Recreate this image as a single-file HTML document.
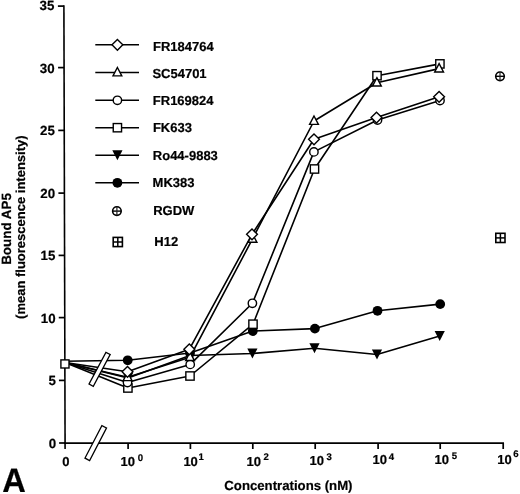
<!DOCTYPE html>
<html><head><meta charset="utf-8"><style>
html,body{margin:0;padding:0;background:#fff;}
svg{display:block;will-change:transform;} text{text-rendering:geometricPrecision;}
</style></head><body>
<svg width="520" height="494" viewBox="0 0 520 494">
<rect width="520" height="494" fill="#fff"/>
<line x1="63.90" y1="5.3" x2="65.1" y2="449" stroke="#000" stroke-width="1.6"/>
<line x1="57.90" y1="6.1" x2="63.90" y2="6.1" stroke="#000" stroke-width="1.7"/>
<line x1="58.07" y1="67.6" x2="64.07" y2="67.6" stroke="#000" stroke-width="1.7"/>
<line x1="58.24" y1="130.4" x2="64.24" y2="130.4" stroke="#000" stroke-width="1.7"/>
<line x1="58.41" y1="193.1" x2="64.41" y2="193.1" stroke="#000" stroke-width="1.7"/>
<line x1="58.59" y1="255.4" x2="64.59" y2="255.4" stroke="#000" stroke-width="1.7"/>
<line x1="58.76" y1="317.6" x2="64.76" y2="317.6" stroke="#000" stroke-width="1.7"/>
<line x1="58.93" y1="380.4" x2="64.93" y2="380.4" stroke="#000" stroke-width="1.7"/>
<line x1="59.10" y1="443.0" x2="65.10" y2="443.0" stroke="#000" stroke-width="1.7"/>
<line x1="64" y1="443.1" x2="504.0" y2="443.1" stroke="#000" stroke-width="1.75"/>
<line x1="128.1" y1="443" x2="128.1" y2="449" stroke="#000" stroke-width="1.7"/>
<line x1="190.4" y1="443" x2="190.4" y2="449" stroke="#000" stroke-width="1.7"/>
<line x1="252.8" y1="443" x2="252.8" y2="449" stroke="#000" stroke-width="1.7"/>
<line x1="315.2" y1="443" x2="315.2" y2="449" stroke="#000" stroke-width="1.7"/>
<line x1="378.1" y1="443" x2="378.1" y2="449" stroke="#000" stroke-width="1.7"/>
<line x1="440.2" y1="443" x2="440.2" y2="449" stroke="#000" stroke-width="1.7"/>
<line x1="503.2" y1="443" x2="503.2" y2="449" stroke="#000" stroke-width="1.7"/>
<polyline points="65,362.5 127.5,371.8 189.3,349.3 252.0,234.3 314.0,139.3 376.5,117.6 439.1,96.8" fill="none" stroke="#000" stroke-width="1.6" stroke-linejoin="round"/>
<polyline points="65,362.5 127.6,377.3 190.0,357.2 252.5,238.9 314.0,121.0 376.9,82.7 439.1,68.6" fill="none" stroke="#000" stroke-width="1.6" stroke-linejoin="round"/>
<polyline points="65,362.5 127.5,382.5 190.2,364.4 252.4,303.3 313.9,151.9 377.5,120.0 440.0,100.5" fill="none" stroke="#000" stroke-width="1.6" stroke-linejoin="round"/>
<polyline points="65,362.5 127.9,388.0 190.0,376.0 253.0,324.2 314.5,169.0 377.0,75.7 439.9,63.9" fill="none" stroke="#000" stroke-width="1.6" stroke-linejoin="round"/>
<polyline points="65,362.5 128.0,378.0 190.0,355.5 252.4,353.5 314.5,348.2 377.0,354.5 439.7,335.9" fill="none" stroke="#000" stroke-width="1.6" stroke-linejoin="round"/>
<polyline points="65,361.2 127.7,360.3 190.0,353.0 252.8,331.0 314.9,328.6 377.5,310.8 440.2,304.1" fill="none" stroke="#000" stroke-width="1.6" stroke-linejoin="round"/>
<path d="M122.9,373.0 L133.1,373.0 L128.0,383.0 Z" fill="#000"/>
<path d="M184.9,350.5 L195.1,350.5 L190.0,360.5 Z" fill="#000"/>
<path d="M247.3,348.5 L257.5,348.5 L252.4,358.5 Z" fill="#000"/>
<path d="M309.4,343.2 L319.6,343.2 L314.5,353.2 Z" fill="#000"/>
<path d="M371.9,349.5 L382.1,349.5 L377.0,359.5 Z" fill="#000"/>
<path d="M434.59999999999997,330.9 L444.8,330.9 L439.7,340.9 Z" fill="#000"/>
<circle cx="127.7" cy="360.3" r="4.9" fill="#000"/>
<circle cx="190.0" cy="353.0" r="4.9" fill="#000"/>
<circle cx="252.8" cy="331.0" r="4.9" fill="#000"/>
<circle cx="314.9" cy="328.6" r="4.9" fill="#000"/>
<circle cx="377.5" cy="310.8" r="4.9" fill="#000"/>
<circle cx="440.2" cy="304.1" r="4.9" fill="#000"/>
<rect x="123.75" y="383.85" width="8.3" height="8.3" fill="#fff" stroke="#000" stroke-width="1.4"/>
<rect x="185.85" y="371.85" width="8.3" height="8.3" fill="#fff" stroke="#000" stroke-width="1.4"/>
<rect x="248.85" y="320.05" width="8.3" height="8.3" fill="#fff" stroke="#000" stroke-width="1.4"/>
<rect x="310.35" y="164.85" width="8.3" height="8.3" fill="#fff" stroke="#000" stroke-width="1.4"/>
<rect x="372.85" y="71.55" width="8.3" height="8.3" fill="#fff" stroke="#000" stroke-width="1.4"/>
<rect x="435.75" y="59.75" width="8.3" height="8.3" fill="#fff" stroke="#000" stroke-width="1.4"/>
<circle cx="127.5" cy="382.5" r="4.2" fill="#fff" stroke="#000" stroke-width="1.4"/>
<circle cx="190.2" cy="364.4" r="4.2" fill="#fff" stroke="#000" stroke-width="1.4"/>
<circle cx="252.4" cy="303.3" r="4.2" fill="#fff" stroke="#000" stroke-width="1.4"/>
<circle cx="313.9" cy="151.9" r="4.2" fill="#fff" stroke="#000" stroke-width="1.4"/>
<circle cx="377.5" cy="120.0" r="4.2" fill="#fff" stroke="#000" stroke-width="1.4"/>
<circle cx="440.0" cy="100.5" r="4.2" fill="#fff" stroke="#000" stroke-width="1.4"/>
<path d="M127.6,372.26 L132.0,380.66 L123.19999999999999,380.66 Z" fill="#fff" stroke="#000" stroke-width="1.4" stroke-linejoin="miter"/>
<path d="M190.0,352.15999999999997 L194.4,360.56 L185.6,360.56 Z" fill="#fff" stroke="#000" stroke-width="1.4" stroke-linejoin="miter"/>
<path d="M252.5,233.86 L256.9,242.26000000000002 L248.1,242.26000000000002 Z" fill="#fff" stroke="#000" stroke-width="1.4" stroke-linejoin="miter"/>
<path d="M314.0,115.96 L318.4,124.36 L309.6,124.36 Z" fill="#fff" stroke="#000" stroke-width="1.4" stroke-linejoin="miter"/>
<path d="M376.9,77.66 L381.29999999999995,86.06 L372.5,86.06 Z" fill="#fff" stroke="#000" stroke-width="1.4" stroke-linejoin="miter"/>
<path d="M439.1,63.559999999999995 L443.5,71.96 L434.70000000000005,71.96 Z" fill="#fff" stroke="#000" stroke-width="1.4" stroke-linejoin="miter"/>
<path d="M127.5,366.40000000000003 L132.9,371.8 L127.5,377.2 L122.1,371.8 Z" fill="#fff" stroke="#000" stroke-width="1.4"/>
<path d="M189.3,343.90000000000003 L194.70000000000002,349.3 L189.3,354.7 L183.9,349.3 Z" fill="#fff" stroke="#000" stroke-width="1.4"/>
<path d="M252.0,228.9 L257.4,234.3 L252.0,239.70000000000002 L246.6,234.3 Z" fill="#fff" stroke="#000" stroke-width="1.4"/>
<path d="M314.0,133.9 L319.4,139.3 L314.0,144.70000000000002 L308.6,139.3 Z" fill="#fff" stroke="#000" stroke-width="1.4"/>
<path d="M376.5,112.19999999999999 L381.9,117.6 L376.5,123.0 L371.1,117.6 Z" fill="#fff" stroke="#000" stroke-width="1.4"/>
<path d="M439.1,91.39999999999999 L444.5,96.8 L439.1,102.2 L433.70000000000005,96.8 Z" fill="#fff" stroke="#000" stroke-width="1.4"/>
<rect x="60.900000000000006" y="359.9" width="8.1" height="8.1" fill="#fff" stroke="#000" stroke-width="1.4"/>
<circle cx="500.0" cy="76.3" r="4.3" fill="#fff" stroke="#000" stroke-width="1.6"/><line x1="495.7" y1="76.3" x2="504.3" y2="76.3" stroke="#000" stroke-width="1.4"/><line x1="500.0" y1="72.0" x2="500.0" y2="80.6" stroke="#222" stroke-width="1.2"/>
<rect x="495.79999999999995" y="233.3" width="9.2" height="9.2" fill="#fff" stroke="#000" stroke-width="1.6"/><line x1="495.79999999999995" y1="237.9" x2="505.0" y2="237.9" stroke="#000" stroke-width="1.5"/><line x1="500.4" y1="233.3" x2="500.4" y2="242.5" stroke="#000" stroke-width="1.5"/>
<rect x="-2.6" y="-18.3" width="5.2" height="36.6" fill="#fff" stroke="#000" stroke-width="1.3" transform="translate(95.75,443.1) rotate(27.5)"/>
<rect x="-2.4" y="-18.0" width="4.8" height="36.0" fill="#fff" stroke="#000" stroke-width="1.3" transform="translate(99.6,369.3) rotate(28.0)"/>
<line x1="95.3" y1="44.8" x2="139" y2="44.8" stroke="#000" stroke-width="1.4"/>
<path d="M117.4,39.4 L122.80000000000001,44.8 L117.4,50.199999999999996 L112.0,44.8 Z" fill="#fff" stroke="#000" stroke-width="1.4"/>
<line x1="95.3" y1="72.5" x2="139" y2="72.5" stroke="#000" stroke-width="1.4"/>
<path d="M117.4,67.46 L121.80000000000001,75.86 L113.0,75.86 Z" fill="#fff" stroke="#000" stroke-width="1.4" stroke-linejoin="miter"/>
<line x1="95.3" y1="100.3" x2="139" y2="100.3" stroke="#000" stroke-width="1.4"/>
<circle cx="117.4" cy="100.3" r="4.2" fill="#fff" stroke="#000" stroke-width="1.4"/>
<line x1="95.3" y1="127.7" x2="139" y2="127.7" stroke="#000" stroke-width="1.4"/>
<rect x="113.25" y="123.55" width="8.3" height="8.3" fill="#fff" stroke="#000" stroke-width="1.4"/>
<line x1="95.3" y1="155.3" x2="139" y2="155.3" stroke="#000" stroke-width="1.4"/>
<path d="M112.30000000000001,150.3 L122.5,150.3 L117.4,160.3 Z" fill="#000"/>
<line x1="95.3" y1="182.8" x2="139" y2="182.8" stroke="#000" stroke-width="1.4"/>
<circle cx="117.4" cy="182.8" r="4.9" fill="#000"/>
<circle cx="116.9" cy="211.1" r="4.3" fill="#fff" stroke="#000" stroke-width="1.6"/><line x1="112.60000000000001" y1="211.1" x2="121.2" y2="211.1" stroke="#000" stroke-width="1.4"/><line x1="116.9" y1="206.79999999999998" x2="116.9" y2="215.4" stroke="#222" stroke-width="1.2"/>
<rect x="113.2" y="237.4" width="9.2" height="9.2" fill="#fff" stroke="#000" stroke-width="1.6"/><line x1="113.2" y1="242.0" x2="122.39999999999999" y2="242.0" stroke="#000" stroke-width="1.5"/><line x1="117.8" y1="237.4" x2="117.8" y2="246.6" stroke="#000" stroke-width="1.5"/>
<text x="153.0" y="50.6" style="font-family:'Liberation Sans', sans-serif;font-weight:bold;stroke:#000;stroke-width:0.2px;font-size:13px">FR184764</text>
<text x="152.4" y="78.1" style="font-family:'Liberation Sans', sans-serif;font-weight:bold;stroke:#000;stroke-width:0.2px;font-size:13px">SC54701</text>
<text x="152.8" y="105.3" style="font-family:'Liberation Sans', sans-serif;font-weight:bold;stroke:#000;stroke-width:0.2px;font-size:13px">FR169824</text>
<text x="152.9" y="132.3" style="font-family:'Liberation Sans', sans-serif;font-weight:bold;stroke:#000;stroke-width:0.2px;font-size:13px">FK633</text>
<text x="152.8" y="160.2" style="font-family:'Liberation Sans', sans-serif;font-weight:bold;stroke:#000;stroke-width:0.2px;font-size:13px">Ro44-9883</text>
<text x="152.6" y="187.3" style="font-family:'Liberation Sans', sans-serif;font-weight:bold;stroke:#000;stroke-width:0.2px;font-size:13px">MK383</text>
<text x="153.2" y="215.2" style="font-family:'Liberation Sans', sans-serif;font-weight:bold;stroke:#000;stroke-width:0.2px;font-size:13px">RGDW</text>
<text x="154.3" y="246.4" style="font-family:'Liberation Sans', sans-serif;font-weight:bold;stroke:#000;stroke-width:0.2px;font-size:13px">H12</text>
<text x="54.34" y="10.4" text-anchor="end" style="font-family:'Liberation Sans', sans-serif;font-weight:bold;stroke:#000;stroke-width:0.2px;font-size:13.3px">35</text>
<text x="54.59" y="73.0" text-anchor="end" style="font-family:'Liberation Sans', sans-serif;font-weight:bold;stroke:#000;stroke-width:0.2px;font-size:13.3px">30</text>
<text x="54.84" y="134.60000000000002" text-anchor="end" style="font-family:'Liberation Sans', sans-serif;font-weight:bold;stroke:#000;stroke-width:0.2px;font-size:13.3px">25</text>
<text x="55.09" y="197.60000000000002" text-anchor="end" style="font-family:'Liberation Sans', sans-serif;font-weight:bold;stroke:#000;stroke-width:0.2px;font-size:13.3px">20</text>
<text x="55.35" y="260.0" text-anchor="end" style="font-family:'Liberation Sans', sans-serif;font-weight:bold;stroke:#000;stroke-width:0.2px;font-size:13.3px">15</text>
<text x="55.60" y="322.8" text-anchor="end" style="font-family:'Liberation Sans', sans-serif;font-weight:bold;stroke:#000;stroke-width:0.2px;font-size:13.3px">10</text>
<text x="55.85" y="384.5" text-anchor="end" style="font-family:'Liberation Sans', sans-serif;font-weight:bold;stroke:#000;stroke-width:0.2px;font-size:13.3px">5</text>
<text x="56.10" y="447.7" text-anchor="end" style="font-family:'Liberation Sans', sans-serif;font-weight:bold;stroke:#000;stroke-width:0.2px;font-size:13.3px">0</text>
<text x="65.8" y="465.5" text-anchor="middle" style="font-family:'Liberation Sans', sans-serif;font-weight:bold;stroke:#000;stroke-width:0.2px;font-size:13px">0</text>
<text x="120.5" y="465.8" style="font-family:'Liberation Sans', sans-serif;font-weight:bold;stroke:#000;stroke-width:0.2px;font-size:13px">10</text>
<text x="137.7" y="460.9" style="font-family:'Liberation Sans', sans-serif;font-weight:bold;stroke:#000;stroke-width:0.2px;font-size:9.6px">0</text>
<text x="183.4" y="465.7" style="font-family:'Liberation Sans', sans-serif;font-weight:bold;stroke:#000;stroke-width:0.2px;font-size:13px">10</text>
<text x="198.4" y="460.0" style="font-family:'Liberation Sans', sans-serif;font-weight:bold;stroke:#000;stroke-width:0.2px;font-size:9.6px">1</text>
<text x="246.5" y="465.7" style="font-family:'Liberation Sans', sans-serif;font-weight:bold;stroke:#000;stroke-width:0.2px;font-size:13px">10</text>
<text x="263.40000000000003" y="460.4" style="font-family:'Liberation Sans', sans-serif;font-weight:bold;stroke:#000;stroke-width:0.2px;font-size:9.6px">2</text>
<text x="309.5" y="465.3" style="font-family:'Liberation Sans', sans-serif;font-weight:bold;stroke:#000;stroke-width:0.2px;font-size:13px">10</text>
<text x="326.6" y="460.0" style="font-family:'Liberation Sans', sans-serif;font-weight:bold;stroke:#000;stroke-width:0.2px;font-size:9.6px">3</text>
<text x="372.5" y="464.4" style="font-family:'Liberation Sans', sans-serif;font-weight:bold;stroke:#000;stroke-width:0.2px;font-size:13px">10</text>
<text x="388.8" y="459.6" style="font-family:'Liberation Sans', sans-serif;font-weight:bold;stroke:#000;stroke-width:0.2px;font-size:9.6px">4</text>
<text x="434.5" y="464.1" style="font-family:'Liberation Sans', sans-serif;font-weight:bold;stroke:#000;stroke-width:0.2px;font-size:13px">10</text>
<text x="451.8" y="458.7" style="font-family:'Liberation Sans', sans-serif;font-weight:bold;stroke:#000;stroke-width:0.2px;font-size:9.6px">5</text>
<text x="497.3" y="464.0" style="font-family:'Liberation Sans', sans-serif;font-weight:bold;stroke:#000;stroke-width:0.2px;font-size:13px">10</text>
<text x="513.2" y="456.5" style="font-family:'Liberation Sans', sans-serif;font-weight:bold;stroke:#000;stroke-width:0.2px;font-size:9.6px">6</text>
<text transform="translate(224.3,490.3) scale(1,1.0)" style="font-family:'Liberation Sans', sans-serif;font-weight:bold;stroke:#000;stroke-width:0.2px;font-size:13.2px">Concentrations (nM)</text>
<text transform="translate(11.2,229) rotate(-90)" text-anchor="middle" style="font-family:'Liberation Sans', sans-serif;font-weight:bold;stroke:#000;stroke-width:0.2px;font-size:13.4px">Bound AP5</text>
<text transform="translate(25.2,227.2) rotate(-90)" text-anchor="middle" style="font-family:'Liberation Sans', sans-serif;font-weight:bold;stroke:#000;stroke-width:0.2px;font-size:13.0px">(mean fluorescence intensity)</text>
<text transform="translate(2.2,492.4) scale(0.99,1.03)" style="font-family:'Liberation Sans', sans-serif;font-weight:bold;stroke:#000;stroke-width:0.2px;font-size:33px">A</text>
</svg>
</body></html>
